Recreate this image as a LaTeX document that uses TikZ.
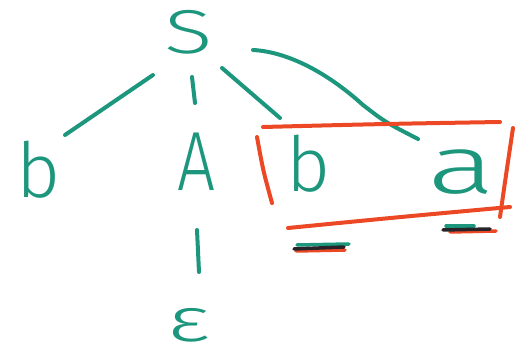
\documentclass[tikz,border=0pt]{standalone}
\usepackage{fontspec}
\usepackage{graphicx}
\setmainfont{Fira Sans}[UprightFont=* Light]
\usetikzlibrary{calc}
\definecolor{pen}{RGB}{28,150,124}
\definecolor{marker}{RGB}{236,72,38}
\definecolor{ink}{RGB}{40,35,40}
\newcommand{\wide}[2]{\scalebox{#1}[1]{#2}}
\tikzset{
  sym/.style={text=pen, inner sep=0pt, font=\fontsize{#1}{#1}\selectfont},
  branch/.style={draw=pen, line width=4pt, line cap=round},
  frame/.style={draw=marker, line width=4pt, line cap=round},
  stroke/.style={line width=3.5pt, line cap=round}
}
\begin{document}
\begin{tikzpicture}[x=1pt,y=-1pt]
\useasboundingbox (0,0) rectangle (528,358);
% symbols of the derivation tree
\node[sym=62] (S) at (189,32) {\wide{1.45}{S}};
\node[sym=76] (bl) at (39,170) {b};
\node[sym=84] (A) at (196,162) {\wide{0.8}{A}};
\node[sym=76] (br) at (309,164) {b};
\node[sym=82] (a) at (462,172) {\wide{1.55}{a}};
\node[sym=62] (eps) at (189,325) {\wide{1.5}{ε}};
% branches
\draw[branch] ($(S)+(-36,43)$) -- ($(bl)+(26,-35)$);
\draw[branch] ($(S)+(3,45)$) -- ($(A)+(-1,-59)$);
\draw[branch] ($(S)+(33,36)$) -- ($(br)+(-29,-46)$);
\draw[branch] ($(S)+(64,18)$) .. controls ($(S)+(101,20)$) and ($(S)+(141,43)$) .. ($(S)+(174,73)$)
  .. controls ($(S)+(196,90)$) .. ($(a)+(-44,-33)$);
\draw[branch] ($(A)+(1,68)$) -- ($(eps)+(10,-53)$);
% box around the handle
\draw[frame] (263,127) .. controls (380,124) .. (500,122);
\draw[frame] (257,137) .. controls (263,170) .. (272,203);
\draw[frame] (513,128) .. controls (506,175) .. (500,217);
\draw[frame] (288,228) .. controls (400,217) .. (510,207);
% underlines
\draw[stroke, pen] (297,245) -- (349,244);
\draw[stroke, marker] (296,251) -- (345,250);
\draw[stroke, ink] (294,249) -- (344,247);
\draw[stroke, pen] (446,226) -- (474,226);
\draw[stroke, marker] (450,232) -- (496,231);
\draw[stroke, ink] (443,230) -- (490,229);
\end{tikzpicture}
\end{document}
